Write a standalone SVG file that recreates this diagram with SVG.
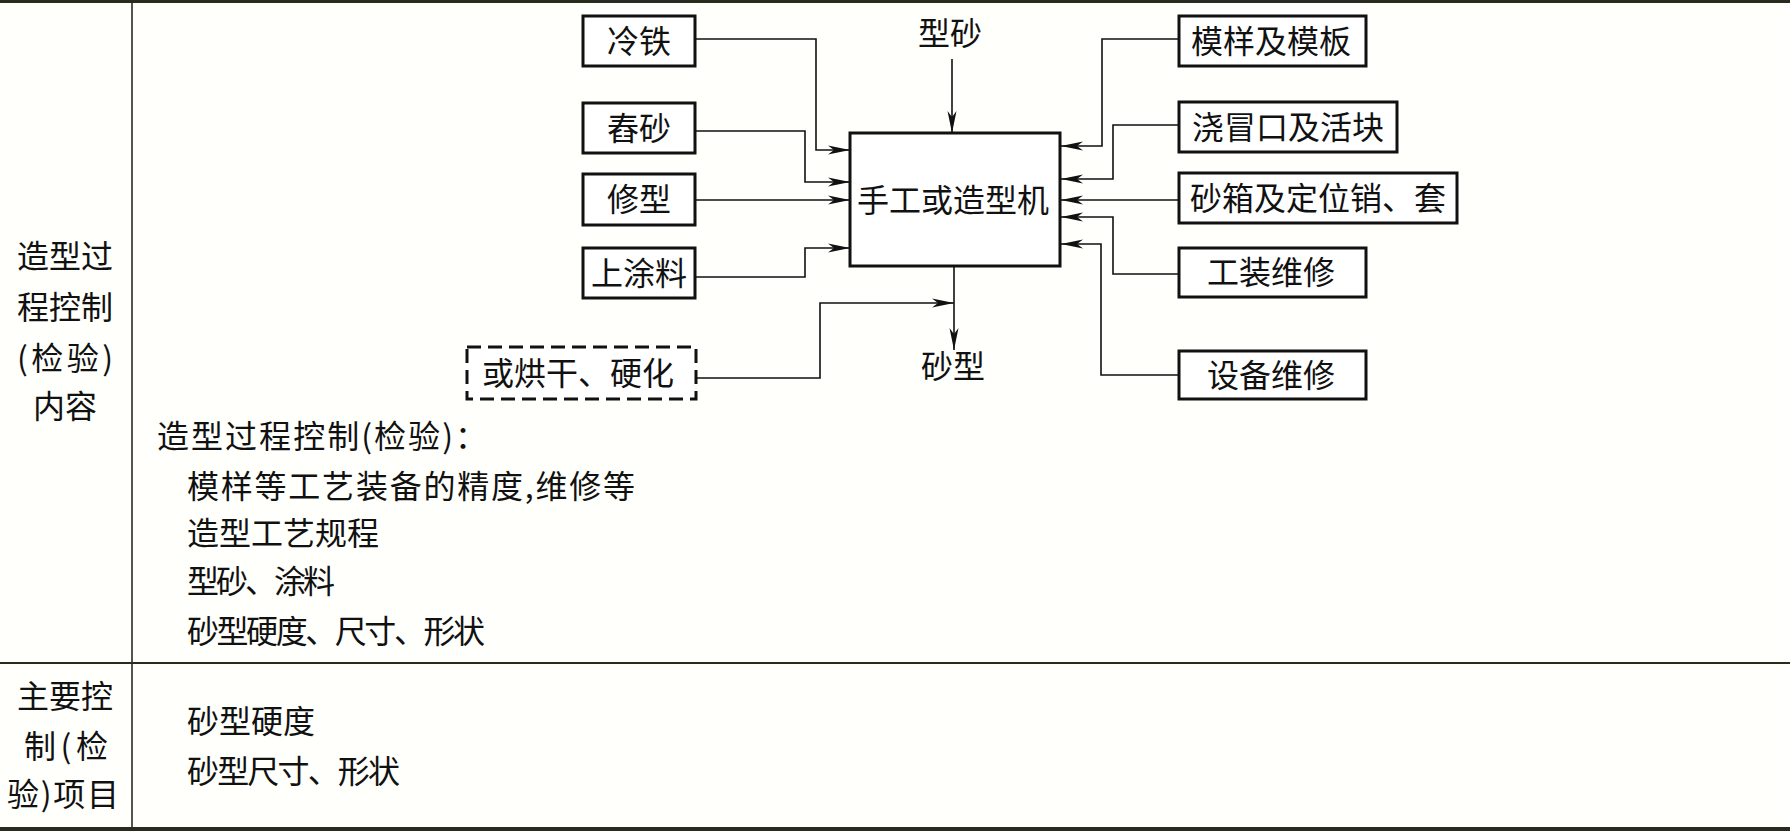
<svg xmlns="http://www.w3.org/2000/svg" width="1790" height="831" viewBox="0 0 1790 831">
<style>
text{font-family:"Noto Sans CJK SC","Noto Sans",sans-serif;font-size:32px;fill:#111;}
.c{text-anchor:middle;}
.box{fill:#fff;stroke:#111;stroke-width:3;}
.dash{fill:#fff;stroke:#111;stroke-width:3;stroke-dasharray:14 7;}
.ln{fill:none;stroke:#111;stroke-width:1.6;}
.tb{stroke:#2a2a1e;fill:none;}
</style>
<defs>
<marker id="arr" markerUnits="userSpaceOnUse" markerWidth="24" markerHeight="12" refX="22" refY="6" orient="auto" viewBox="0 0 24 12">
<path d="M0,1.5 L22,6 L0,10.5 L6,6 Z" fill="#111"/>
</marker>
</defs>
<rect x="0" y="0" width="1790" height="831" fill="#fffffc"/>
<g id="table">
<line class="tb" x1="0" y1="1.5" x2="1790" y2="1.5" stroke-width="3"/>
<line class="tb" x1="0" y1="663" x2="1790" y2="663" stroke-width="2"/>
<line class="tb" x1="0" y1="829" x2="1790" y2="829" stroke-width="4"/>
<line class="tb" x1="132" y1="0" x2="132" y2="831" stroke-width="1.6"/>
</g>
<g id="left-col">
<text class="c" x="65" y="268">造型过</text>
<text class="c" x="65" y="319">程控制</text>
<text class="c" x="65" y="370" textLength="96" lengthAdjust="spacing">(检验)</text>
<text class="c" x="65" y="418">内容</text>
<text class="c" x="65" y="708">主要控</text>
<text class="c" x="66" y="758" textLength="84" lengthAdjust="spacing">制(检</text>
<text class="c" x="63" y="806" textLength="112" lengthAdjust="spacing">验)项目</text>
</g>
<g id="content">
<text x="157" y="448" textLength="330" lengthAdjust="spacing">造型过程控制(检验)：</text>
<text x="187" y="498" textLength="448" lengthAdjust="spacing">模样等工艺装备的精度,维修等</text>
<text x="187" y="545">造型工艺规程</text>
<text x="187" y="593" textLength="148" lengthAdjust="spacing">型砂、涂料</text>
<text x="187" y="643" textLength="298" lengthAdjust="spacing">砂型硬度、尺寸、形状</text>
<text x="187" y="733">砂型硬度</text>
<text x="187" y="783" textLength="213" lengthAdjust="spacing">砂型尺寸、形状</text>
</g>
<g id="connectors">
<polyline class="ln" points="695,39 816,39 816,150 850,150" marker-end="url(#arr)"/>
<polyline class="ln" points="695,131 805,131 805,182 850,182" marker-end="url(#arr)"/>
<polyline class="ln" points="695,200 850,200" marker-end="url(#arr)"/>
<polyline class="ln" points="695,277 805,277 805,248 850,248" marker-end="url(#arr)"/>
<polyline class="ln" points="952,59 952,133" marker-end="url(#arr)"/>
<polyline class="ln" points="954,266 954,350" marker-end="url(#arr)"/>
<polyline class="ln" points="696,378 820,378 820,303 954,303" marker-end="url(#arr)"/>
<polyline class="ln" points="1179,39 1102,39 1102,146 1061,146" marker-end="url(#arr)"/>
<polyline class="ln" points="1179,125 1113,125 1113,179 1061,179" marker-end="url(#arr)"/>
<polyline class="ln" points="1179,200 1061,200" marker-end="url(#arr)"/>
<polyline class="ln" points="1179,274 1113,274 1113,217 1061,217" marker-end="url(#arr)"/>
<polyline class="ln" points="1179,375 1101,375 1101,244 1061,244" marker-end="url(#arr)"/>
</g>
<g id="n-lengtie"><rect class="box" x="583" y="16" width="112" height="50"/><text class="c" x="639" y="53">冷铁</text></g>
<g id="n-chongsha"><rect class="box" x="583" y="103" width="112" height="50"/><text class="c" x="639" y="140">舂砂</text></g>
<g id="n-xiuxing"><rect class="box" x="583" y="174" width="112" height="51"/><text class="c" x="639" y="211">修型</text></g>
<g id="n-tuliao"><rect class="box" x="583" y="248" width="112" height="50"/><text class="c" x="639" y="285">上涂料</text></g>
<g id="n-honggan"><rect class="dash" x="467" y="347" width="229" height="52"/><text class="c" x="578" y="385">或烘干、硬化</text></g>
<g id="n-machine"><rect class="box" x="850" y="133" width="210" height="133"/><text class="c" x="953" y="212">手工或造型机</text></g>
<g id="n-xingsha"><text class="c" x="950" y="45">型砂</text></g>
<g id="n-shaxing"><text class="c" x="953" y="378">砂型</text></g>
<g id="n-moyang"><rect class="box" x="1179" y="16" width="187" height="50"/><text class="c" x="1271" y="53">模样及模板</text></g>
<g id="n-jiaomao"><rect class="box" x="1179" y="102" width="218" height="50"/><text class="c" x="1288" y="139">浇冒口及活块</text></g>
<g id="n-shaxiang"><rect class="box" x="1179" y="173" width="278" height="50"/><text class="c" x="1318" y="210">砂箱及定位销、套</text></g>
<g id="n-gongzhuang"><rect class="box" x="1179" y="248" width="187" height="49"/><text class="c" x="1271" y="284">工装维修</text></g>
<g id="n-shebei"><rect class="box" x="1179" y="351" width="187" height="48"/><text class="c" x="1271" y="387">设备维修</text></g>
</svg>
